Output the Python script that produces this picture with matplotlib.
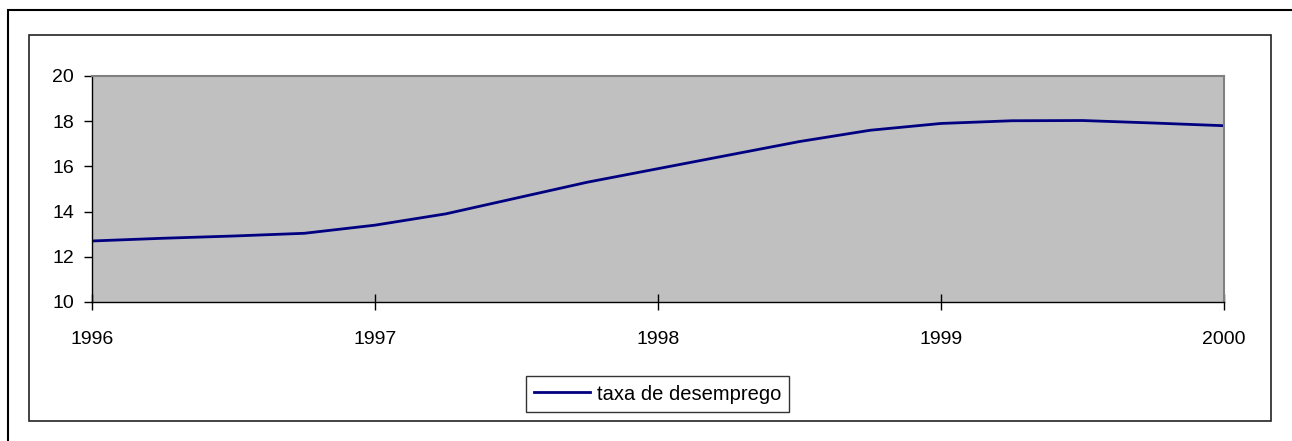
import matplotlib.pyplot as plt
import matplotlib.patches as patches
import numpy as np

# quarterly readings, 1996 - 2000
years = [1996.0, 1996.25, 1996.5, 1996.75, 1997.0, 1997.25, 1997.5, 1997.75,
         1998.0, 1998.25, 1998.5, 1998.75, 1999.0, 1999.25, 1999.5, 1999.75, 2000.0]
taxa = [12.7, 12.82, 12.92, 13.04, 13.4, 13.9, 14.6, 15.3,
        15.9, 16.5, 17.1, 17.6, 17.9, 18.02, 18.03, 17.92, 17.8]
xticks = [1996, 1997, 1998, 1999, 2000]
yticks = [10, 12, 14, 16, 18, 20]

plt.rcParams['font.family'] = ['Liberation Sans', 'DejaVu Sans']

W, H = 1292, 441
fig = plt.figure(figsize=(W / 100, H / 100), dpi=100)

# outer frame (runs off the right/bottom edge) and chart-area frame
fig.patches.append(patches.Rectangle((8 / W, -0.1), 1.2, 1.1 - 10 / H,
                                     transform=fig.transFigure, fill=False,
                                     edgecolor='black', linewidth=1.5))
fig.patches.append(patches.Rectangle((29 / W, 1 - 421 / H), (1271 - 29) / W, (421 - 35) / H,
                                     transform=fig.transFigure, fill=False,
                                     edgecolor='#222222', linewidth=1.2))

ax = fig.add_axes([92 / W, 1 - 302 / H, (1224 - 92) / W, (302 - 76) / H])
ax.set_facecolor('#C0C0C0')
ax.plot(years, taxa, color='#000080', linewidth=2, label='taxa de desemprego')

ax.set_xlim(1996, 2000)
ax.set_ylim(10, 20)
ax.set_xticks(xticks)
ax.set_yticks(yticks)
ax.tick_params(axis='y', direction='out', length=6, width=1, labelsize=14, pad=7)
ax.tick_params(axis='x', direction='inout', length=12, width=1, labelsize=14, pad=15)

for s in ['top', 'right']:
    ax.spines[s].set_color('#808080')
    ax.spines[s].set_linewidth(1.5)
for s in ['left', 'bottom']:
    ax.spines[s].set_color('black')
    ax.spines[s].set_linewidth(1)

leg = fig.legend(loc='center', bbox_to_anchor=(657.5 / W, 1 - 394 / H),
                 fontsize=14.5, frameon=True, fancybox=False, edgecolor='black',
                 handlelength=2.8, borderpad=0.4, handletextpad=0.3, borderaxespad=0)
leg.get_frame().set_linewidth(1)

fig.savefig('out.png', dpi=100)
